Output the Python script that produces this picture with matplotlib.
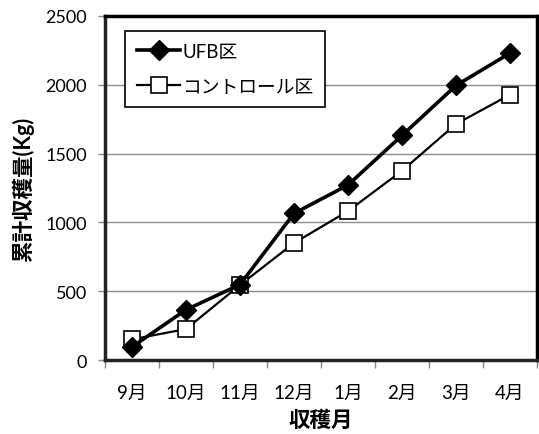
import matplotlib
matplotlib.use("Agg")
import matplotlib.pyplot as plt
from matplotlib.ticker import FixedLocator

plt.rcParams['font.family'] = ['Lato', 'Noto Sans CJK JP', 'DejaVu Sans']

months = ['9月', '10月', '11月', '12月', '1月', '2月', '3月', '4月']
ufb = [95, 365, 548, 1065, 1272, 1632, 1995, 2230]
control = [150, 225, 545, 850, 1082, 1375, 1715, 1928]
yticks = [0, 500, 1000, 1500, 2000, 2500]

fig = plt.figure(figsize=(5.39, 4.35), dpi=100)
ax = fig.add_axes([105/539, 1 - 361/435, 432/539, 344/435])

x = list(range(len(months)))
ax.plot(x, ufb, color='black', lw=2.6, marker='D', markersize=10,
        markerfacecolor='black', markeredgecolor='black', label='UFB区', zorder=4)
ax.plot(x, control, color='black', lw=1.6, marker='s', markersize=12,
        markerfacecolor='white', markeredgecolor='black', markeredgewidth=1.2,
        label='コントロール区', zorder=3)

ax.set_xlim(-0.5, len(months) - 0.5)
ax.set_ylim(0, 2500)
ax.set_yticks(yticks)
ax.set_yticklabels([str(v) for v in yticks], fontsize=13)
ax.set_xticks(x)
ax.set_xticklabels(months, fontsize=13.5)
ax.xaxis.set_minor_locator(FixedLocator([i + 0.5 for i in range(-1, len(months))]))
ax.tick_params(axis='x', which='major', length=0, pad=17)
ax.tick_params(axis='x', which='minor', length=6, color='#888888', width=1)
ax.tick_params(axis='y', length=5, color='#888888', width=1, pad=8)
ax.grid(axis='y', color='#8c8c8c', lw=1)
ax.set_axisbelow(True)

for s in ['top', 'right']:
    ax.spines[s].set_linewidth(2.5)
    ax.spines[s].set_color('black')
for s in ['left', 'bottom']:
    ax.spines[s].set_linewidth(2.5)
    ax.spines[s].set_color('#222222')

ax.set_ylabel('累計収穫量(Kg)', fontsize=15.5, fontweight='bold', labelpad=8)
ax.set_xlabel('収穫月', fontsize=15.5, fontweight='bold', labelpad=6)

leg = ax.legend(loc='upper left', bbox_to_anchor=(0.046, 0.957), fontsize=13.5,
                frameon=True, fancybox=False, edgecolor='black', framealpha=1,
                handlelength=2.3, handletextpad=0.1, labelspacing=0.95,
                borderpad=0.65, borderaxespad=0)
leg.get_frame().set_linewidth(1.2)

fig.savefig('out.png', dpi=100)
